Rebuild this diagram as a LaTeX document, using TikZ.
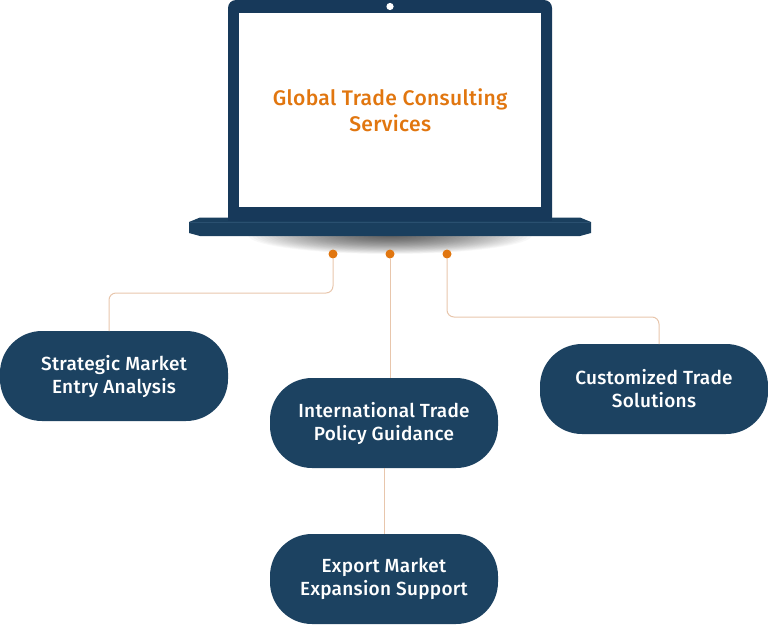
\documentclass[tikz,border=0pt]{standalone}
\usepackage{fontspec}
\newfontfamily\labelfont{Fira Sans Medium}[LetterSpace=1.5]
\usetikzlibrary{calc}
\definecolor{lapnavy}{HTML}{17395A}
\definecolor{basenavy}{HTML}{1A3F5E}
\definecolor{basehi}{HTML}{2A5070}
\definecolor{pillnavy}{HTML}{1C4261}
\definecolor{tradeorange}{HTML}{E1760F}
\definecolor{wire}{HTML}{E8C6AC}
\tikzset{
  x=1pt,y=-1pt,
  pill/.style={draw=none,fill=pillnavy,rounded corners=42pt,minimum width=228pt,minimum height=90pt,
    text=white,align=center,inner sep=0pt,font=\labelfont\fontsize{19pt}{23pt}\selectfont},
  pin/.style={circle,fill=tradeorange,minimum size=9pt,inner sep=0pt},
  wireline/.style={draw=wire,line width=1pt,rounded corners=7pt},
}
\begin{document}
\begin{tikzpicture}
\useasboundingbox (0,0) rectangle (768,624);
% soft shadow under the laptop base, built from stacked translucent ellipses
\begin{scope}
  \clip (240,236) rectangle (540,258);
  \foreach \i in {1,...,36}
    \fill[black,fill opacity=0.028] (390,235) ellipse[x radius={\i*142/36*1pt},y radius={\i*19/36*1pt}];
\end{scope}
% laptop lid and screen
\fill[lapnavy] (228,220) [rounded corners=8pt] -- (228,0) -- (552,0) [sharp corners] -- (552,220) -- cycle;
\node[minimum width=302pt,minimum height=194pt,fill=white,inner sep=0pt,anchor=north west,align=center,
  text=tradeorange,font=\labelfont\fontsize{21.1pt}{25.5pt}\selectfont] (screen) at (239,13)
  {Global Trade Consulting\\Services};
\fill[white] (390,6.5) circle[radius=3.6pt];
% laptop base
\fill[basenavy] (200,217.5) -- (580,217.5) -- (591,222) -- (591,233) -- (580,236) -- (200,236) -- (189,233) -- (189,222) -- cycle;
\fill[lapnavy] (228,217) rectangle (552,221);
\draw[basehi,line width=.8pt] (190,222.5) -- (590,222.5);
% service pills
\node[pill] (entry) at (114,376) {Strategic Market\\Entry Analysis};
\node[pill] (policy) at (384,423) {International Trade\\Policy Guidance};
\node[pill] (custom) at (654,389) {Customized Trade\\Solutions};
\node[pill] (export) at (384,579) {Export Market\\Expansion Support};
% connector ends and pins
\node[pin] (pa) at (333,254) {};
\node[pin] (pb) at (390,254) {};
\node[pin] (pc) at (447,254) {};
\coordinate (ea) at (109,331);
\coordinate (ec) at (659,344);
% connectors
\draw[wireline] (pa.south) -- (333,293) -- (109,293) -- (ea);
\draw[wireline] (pb.south) -- (pb.south |- policy.north);
\draw[wireline] (pc.south) -- (447,317) -- (659,317) -- (ec);
\draw[wireline] (policy.south) -- (export.north);
\end{tikzpicture}
\end{document}
